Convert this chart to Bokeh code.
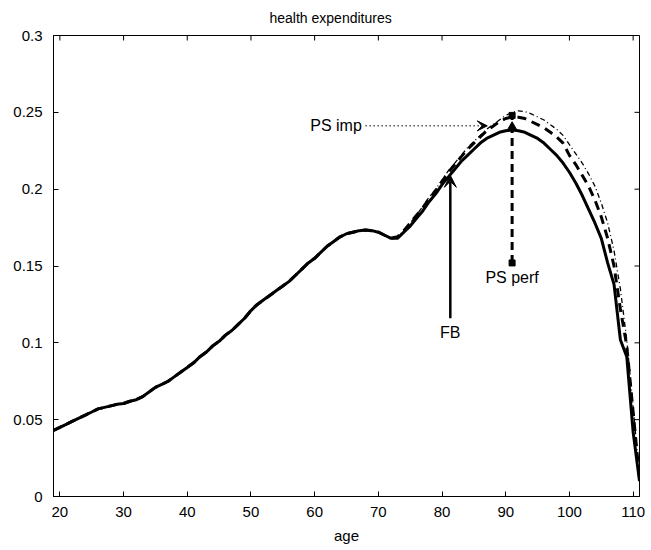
from bokeh.plotting import figure
from bokeh.models import Range1d, Arrow, VeeHead, Label, FixedTicker, NumeralTickFormatter
from bokeh.embed import file_html
from bokeh.resources import INLINE

ages = list(range(19, 112))

fb = [0.043, 0.045, 0.047, 0.049, 0.051, 0.053, 0.055, 0.057, 0.058, 0.059,
      0.060, 0.0605, 0.062, 0.063, 0.065, 0.068, 0.071, 0.073, 0.075, 0.078,
      0.081, 0.084, 0.087, 0.091, 0.094, 0.098, 0.101, 0.105, 0.108, 0.112,
      0.116, 0.121, 0.125, 0.128, 0.131, 0.134, 0.137, 0.140, 0.144, 0.148,
      0.152, 0.155, 0.159, 0.163, 0.166, 0.169, 0.171, 0.172, 0.173, 0.1735,
      0.173, 0.172, 0.170, 0.168, 0.168, 0.172, 0.176, 0.181, 0.186, 0.192,
      0.197, 0.203, 0.208, 0.213, 0.218, 0.222, 0.226, 0.230, 0.233, 0.235,
      0.237, 0.238, 0.2385, 0.238, 0.237, 0.235, 0.233, 0.230, 0.226, 0.222,
      0.217, 0.211, 0.204, 0.196, 0.187, 0.178, 0.168, 0.152, 0.138, 0.102,
      0.091, 0.042, 0.010]

ps_perf_tail = [0.169, 0.173, 0.178, 0.183, 0.188, 0.194, 0.199, 0.205, 0.211,
                0.216, 0.221, 0.226, 0.230, 0.234, 0.238, 0.241, 0.244, 0.246,
                0.247, 0.2468, 0.246, 0.244, 0.242, 0.240, 0.237, 0.234, 0.230,
                0.222, 0.216, 0.209, 0.202, 0.193, 0.182, 0.168, 0.150, 0.122,
                0.098, 0.055, 0.012]
ps_imp_tail = [0.169, 0.173, 0.178, 0.183, 0.189, 0.195, 0.200, 0.206, 0.212,
               0.217, 0.222, 0.227, 0.231, 0.235, 0.239, 0.242, 0.245, 0.248,
               0.250, 0.251, 0.2505, 0.249, 0.247, 0.245, 0.242, 0.239, 0.235,
               0.229, 0.223, 0.217, 0.210, 0.202, 0.191, 0.178, 0.160, 0.135,
               0.102, 0.058, 0.013]
n_tail = len(ps_perf_tail)
ps_perf = fb[:len(ages) - n_tail] + ps_perf_tail
ps_imp = fb[:len(ages) - n_tail] + ps_imp_tail

x_ticks = [20, 30, 40, 50, 60, 70, 80, 90, 100, 110]
y_ticks = [0, 0.05, 0.1, 0.15, 0.2, 0.25, 0.3]

X0, X1, Y0, Y1 = 19, 111, 0, 0.3

# annotation anchors (data units)
imp_text = (67.4, 0.2412)
imp_arrow = (68.0, 0.2412, 87.1, 0.2412)
perf_line = (91.0, 0.152, 91.0, 0.248)
perf_head = (91.0, 0.2405)
perf_text = (91.0, 0.148)
fb_arrow = (81.3, 0.116, 81.3, 0.209)
fb_text = (81.3, 0.112)

FONT = "Liberation Sans"
FS = "15px"
FS_ANN = "16px"

W, H = 651, 550
BL, BR, BT, BB = 53, 12, 35, 54

p = figure(width=W, height=H, x_range=Range1d(X0, X1), y_range=Range1d(Y0, Y1),
           output_backend="svg", toolbar_location=None,
           min_border_left=BL, min_border_right=BR, min_border_top=BT, min_border_bottom=BB,
           title="health expenditures")
p.title.align = "left"
p.title.offset = 216
p.title.vertical_align = "top"
p.title.text_font = FONT
p.title.text_font_size = "14px"
p.title.text_font_style = "normal"
p.title.text_color = "black"
p.title.standoff = 16
p.xgrid.visible = False
p.ygrid.visible = False
p.outline_line_color = "black"
p.outline_line_width = 1
p.background_fill_color = "white"
p.border_fill_color = "white"

for ax in (p.xaxis[0], p.yaxis[0]):
    ax.major_tick_in = 5
    ax.major_tick_out = 0
    ax.minor_tick_line_color = None
    ax.axis_line_color = "black"
    ax.major_tick_line_color = "black"
    ax.major_label_text_font = FONT
    ax.major_label_text_font_size = FS
    ax.major_label_text_color = "black"
    ax.axis_label_text_font = FONT
    ax.axis_label_text_font_size = FS
    ax.axis_label_text_font_style = "normal"
    ax.axis_label_text_color = "black"
p.xaxis[0].ticker = FixedTicker(ticks=x_ticks)
p.yaxis[0].ticker = FixedTicker(ticks=y_ticks)
p.yaxis[0].formatter = NumeralTickFormatter(format="0.[00]")
p.xaxis[0].axis_label = "age"
p.xaxis[0].axis_label_standoff = 7
p.xaxis[0].major_label_standoff = 10
p.yaxis[0].major_label_standoff = 11

# inward ticks on top and right edges (MATLAB box style)
frame_w = W - BL - BR
frame_h = H - BT - BB
tick_px = 5
dy = tick_px * (Y1 - Y0) / frame_h
dx = tick_px * (X1 - X0) / frame_w
p.segment(x0=x_ticks, y0=[Y1] * len(x_ticks), x1=x_ticks, y1=[Y1 - dy] * len(x_ticks),
          line_color="black", line_width=1)
p.segment(x0=[X1] * len(y_ticks), y0=y_ticks, x1=[X1 - dx] * len(y_ticks), y1=y_ticks,
          line_color="black", line_width=1)

p.line(ages, ps_imp, line_color="black", line_width=1.3, line_dash="5 3 1 3")
p.line(ages, ps_perf, line_color="black", line_width=3, line_dash="9 6")
p.line(ages, fb, line_color="black", line_width=3)

# PS imp annotation
p.add_layout(Arrow(end=VeeHead(size=10, fill_color="black", line_color="black", line_width=1),
                   x_start=imp_arrow[0], y_start=imp_arrow[1], x_end=imp_arrow[2], y_end=imp_arrow[3],
                   line_color="black", line_width=1.5, line_dash="1 3"))
p.add_layout(Label(x=imp_text[0], y=imp_text[1], text="PS imp", text_align="right",
                   text_baseline="middle", text_font=FONT, text_font_size=FS_ANN, text_color="black"))

# PS perf annotation
p.segment(x0=[perf_line[0]], y0=[perf_line[1]], x1=[perf_line[2]], y1=[perf_line[3]],
          line_color="black", line_width=3, line_dash="8 5")
p.scatter([perf_line[0], perf_line[2]], [perf_line[1], perf_line[3]], marker="square",
          size=6, fill_color="black", line_color="black")
p.scatter([perf_head[0]], [perf_head[1]], marker="triangle", size=9,
          fill_color="black", line_color="black")
p.add_layout(Label(x=perf_text[0], y=perf_text[1], text="PS perf", text_align="center",
                   text_baseline="top", text_font=FONT, text_font_size=FS_ANN, text_color="black"))

# FB annotation
p.add_layout(Arrow(end=VeeHead(size=12, fill_color="black", line_color="black", line_width=1),
                   x_start=fb_arrow[0], y_start=fb_arrow[1], x_end=fb_arrow[2], y_end=fb_arrow[3],
                   line_color="black", line_width=2.5))
p.add_layout(Label(x=fb_text[0], y=fb_text[1], text="FB", text_align="center",
                   text_baseline="top", text_font=FONT, text_font_size=FS_ANN, text_color="black"))

open("out.html", "w").write(file_html(p, INLINE))
